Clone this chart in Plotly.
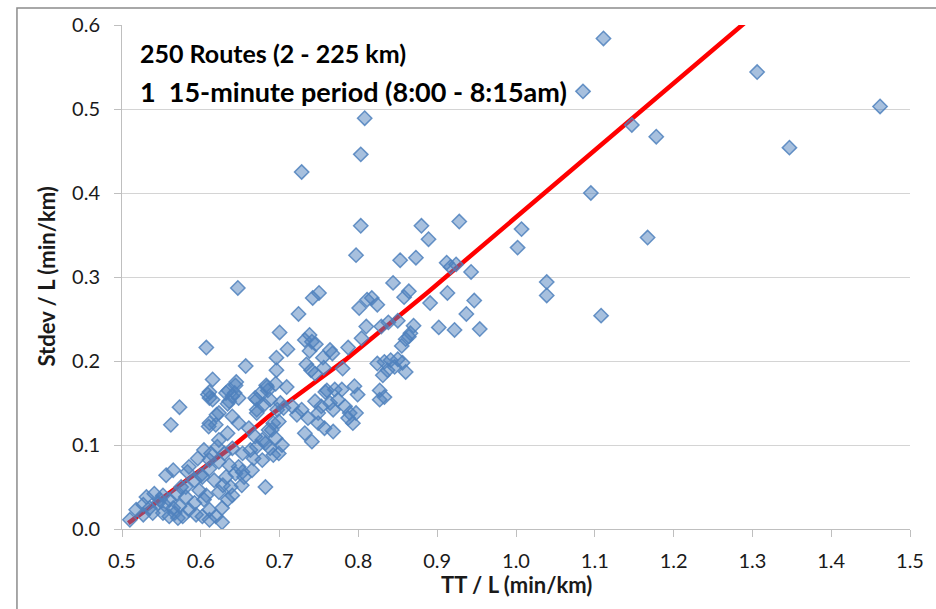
import plotly.graph_objects as go

# Scatter data: TT/L (min/km) vs Stdev/L (min/km)
tt_per_km = [
    1.462, 1.111, 1.306, 1.085, 1.147, 1.178, 1.347, 1.095, 1.007, 1.002,
    1.167, 1.039, 1.039, 1.108, 0.928, 0.889, 0.880, 0.912, 0.924, 0.917,
    0.943, 0.913, 0.891, 0.947, 0.937, 0.902, 0.922, 0.954, 0.803, 0.797,
    0.853, 0.873, 0.844, 0.864, 0.858, 0.801, 0.811, 0.817, 0.824, 0.810,
    0.829, 0.838, 0.850, 0.870, 0.866, 0.864, 0.804, 0.808, 0.803, 0.728,
    0.647, 0.750, 0.742, 0.724, 0.700, 0.738, 0.741, 0.746, 0.732, 0.607,
    0.710, 0.738, 0.764, 0.696, 0.755, 0.767, 0.657, 0.734, 0.740, 0.745,
    0.696, 0.756, 0.615, 0.645, 0.635, 0.643, 0.648, 0.611, 0.611, 0.636,
    0.671, 0.685, 0.683, 0.695, 0.709, 0.701, 0.758, 0.764, 0.745, 0.573,
    0.671, 0.860, 0.855, 0.787, 0.780, 0.824, 0.833, 0.841, 0.850, 0.846,
    0.837, 0.856, 0.831, 0.860, 0.760, 0.770, 0.779, 0.795, 0.799, 0.827,
    0.827, 0.833, 0.774, 0.783, 0.789, 0.768, 0.753, 0.749, 0.728, 0.736,
    0.722, 0.749, 0.757, 0.732, 0.768, 0.793, 0.787, 0.797, 0.690, 0.741,
    0.699, 0.609, 0.615, 0.632, 0.644, 0.640, 0.669, 0.676, 0.684, 0.680,
    0.688, 0.697, 0.705, 0.716, 0.623, 0.611, 0.619, 0.640, 0.648, 0.661,
    0.671, 0.692, 0.686, 0.669, 0.678, 0.695, 0.703, 0.688, 0.699, 0.604,
    0.613, 0.621, 0.630, 0.640, 0.653, 0.663, 0.667, 0.678, 0.692, 0.682,
    0.623, 0.636, 0.648, 0.611, 0.602, 0.617, 0.632, 0.644, 0.655, 0.665,
    0.638, 0.623, 0.607, 0.562, 0.634, 0.620, 0.610, 0.623, 0.634, 0.596,
    0.611, 0.585, 0.556, 0.565, 0.531, 0.546, 0.518, 0.510, 0.527, 0.539,
    0.552, 0.560, 0.569, 0.575, 0.581, 0.573, 0.585, 0.560, 0.571, 0.592,
    0.598, 0.604, 0.611, 0.619, 0.627, 0.634, 0.653, 0.671, 0.682, 0.592,
    0.600, 0.581, 0.541, 0.548, 0.535, 0.567, 0.577, 0.594, 0.602, 0.552,
    0.565, 0.554, 0.527, 0.583, 0.611, 0.627, 0.640, 0.652, 0.628,
]
stdev_per_km = [
    0.503, 0.584, 0.544, 0.521, 0.481, 0.467, 0.454, 0.400, 0.357, 0.335,
    0.347, 0.294, 0.278, 0.254, 0.366, 0.345, 0.361, 0.317, 0.315, 0.312,
    0.306, 0.281, 0.269, 0.272, 0.256, 0.240, 0.237, 0.238, 0.361, 0.326,
    0.320, 0.323, 0.293, 0.283, 0.276, 0.263, 0.273, 0.275, 0.267, 0.241,
    0.241, 0.246, 0.248, 0.242, 0.233, 0.229, 0.227, 0.489, 0.446, 0.425,
    0.287, 0.281, 0.275, 0.256, 0.234, 0.231, 0.223, 0.220, 0.225, 0.216,
    0.214, 0.212, 0.213, 0.204, 0.204, 0.209, 0.194, 0.196, 0.189, 0.185,
    0.189, 0.192, 0.178, 0.175, 0.165, 0.162, 0.156, 0.163, 0.156, 0.152,
    0.154, 0.165, 0.171, 0.173, 0.169, 0.150, 0.163, 0.150, 0.152, 0.145,
    0.142, 0.226, 0.218, 0.216, 0.191, 0.197, 0.199, 0.201, 0.202, 0.193,
    0.189, 0.198, 0.183, 0.187, 0.165, 0.166, 0.166, 0.170, 0.160, 0.165,
    0.154, 0.157, 0.154, 0.146, 0.138, 0.142, 0.146, 0.138, 0.142, 0.132,
    0.136, 0.126, 0.120, 0.114, 0.116, 0.126, 0.132, 0.138, 0.118, 0.104,
    0.128, 0.160, 0.154, 0.162, 0.171, 0.158, 0.156, 0.162, 0.169, 0.148,
    0.154, 0.142, 0.144, 0.146, 0.138, 0.126, 0.124, 0.134, 0.126, 0.120,
    0.138, 0.126, 0.118, 0.110, 0.106, 0.108, 0.100, 0.096, 0.090, 0.094,
    0.090, 0.098, 0.090, 0.096, 0.090, 0.094, 0.084, 0.082, 0.088, 0.050,
    0.080, 0.076, 0.074, 0.072, 0.062, 0.058, 0.062, 0.066, 0.062, 0.070,
    0.050, 0.044, 0.040, 0.124, 0.149, 0.136, 0.122, 0.106, 0.114, 0.084,
    0.082, 0.074, 0.064, 0.070, 0.038, 0.031, 0.023, 0.011, 0.017, 0.019,
    0.019, 0.035, 0.042, 0.050, 0.038, 0.027, 0.023, 0.015, 0.013, 0.031,
    0.046, 0.035, 0.023, 0.015, 0.025, 0.035, 0.068, 0.098, 0.102, 0.058,
    0.064, 0.050, 0.042, 0.035, 0.025, 0.019, 0.015, 0.017, 0.015, 0.040,
    0.025, 0.029, 0.029, 0.068, 0.011, 0.008, 0.040, 0.052, 0.052,
]

# Trend line
trend_x = [0.508, 0.640, 0.686, 0.783, 0.887, 1.026, 1.051, 1.287, 1.300]
trend_y = [0.007, 0.098, 0.134, 0.201, 0.281, 0.392, 0.413, 0.600, 0.610]

x_ticks = [0.5, 0.6, 0.7, 0.8, 0.9, 1.0, 1.1, 1.2, 1.3, 1.4, 1.5]
y_ticks = [0.0, 0.1, 0.2, 0.3, 0.4, 0.5, 0.6]

title_lines = ["250 Routes (2 - 225 km)", "1\u00a0\u00a015-minute period (8:00 - 8:15am)"]
x_title = "TT / L (min/km)"
y_title = "Stdev / L (min/km)"

FONT = "Lato, 'Open Sans', sans-serif"

fig = go.Figure()
fig.add_trace(go.Scatter(
    x=trend_x, y=trend_y, mode="lines",
    line=dict(color="#FF0000", width=4.5),
    hoverinfo="skip", showlegend=False,
))
fig.add_trace(go.Scatter(
    x=tt_per_km, y=stdev_per_km, mode="markers",
    marker=dict(symbol="diamond", size=11,
                color="rgba(79,129,189,0.5)",
                line=dict(color="rgba(79,129,189,0.85)", width=1.5)),
    showlegend=False,
))

axis_common = dict(
    showline=True, linecolor="#BFBFBF", linewidth=1,
    ticks="outside", ticklen=7, tickcolor="#BFBFBF", tickwidth=1,
    tickfont=dict(family=FONT, size=20, color="#1A1A1A"),
    zeroline=False,
)

fig.update_xaxes(range=[0.5, 1.5], tickvals=x_ticks,
                 ticktext=[f"{v:.1f}" for v in x_ticks],
                 showgrid=False, ticklabelstandoff=7, **axis_common)
fig.update_yaxes(range=[0.0, 0.6], tickvals=y_ticks,
                 ticktext=[f"{v:.1f}" for v in y_ticks],
                 showgrid=True, gridcolor="#D4D4D4", gridwidth=1,
                 ticklabelstandoff=10, **axis_common)

annotations = [
    dict(text=f"<b>{title_lines[0]}</b>", x=0.020, y=0.944, xref="paper", yref="paper",
         xanchor="left", yanchor="middle", showarrow=False,
         font=dict(family=FONT, size=25, color="#000000")),
    dict(text=f"<b>{title_lines[1]}</b>", x=0.020, y=0.869, xref="paper", yref="paper",
         xanchor="left", yanchor="middle", showarrow=False,
         font=dict(family=FONT, size=27, color="#000000")),
    dict(text=f"<b>{x_title}</b>", x=0.5, y=-0.110, xref="paper", yref="paper",
         xanchor="center", yanchor="middle", showarrow=False,
         font=dict(family=FONT, size=22, color="#1A1A1A")),
    dict(text=f"<b>{y_title}</b>", x=-0.097, y=0.5, xref="paper", yref="paper",
         xanchor="center", yanchor="middle", showarrow=False, textangle=-90,
         font=dict(family=FONT, size=22, color="#1A1A1A")),
]

fig.update_layout(
    width=936, height=609,
    margin=dict(l=122, r=19, t=25, b=80),
    paper_bgcolor="white", plot_bgcolor="white",
    annotations=annotations,
    shapes=[dict(type="rect", xref="paper", yref="paper",
                 x0=-0.1333, y0=-0.2, x1=1.05, y1=1.0337,
                 line=dict(color="#8C8C8C", width=1.5), layer="below")],
)

fig.write_html(
    "out.html",
    config={"displayModeBar": False},
    post_script="document.body.style.margin='0';document.body.style.overflow='hidden';",
)
